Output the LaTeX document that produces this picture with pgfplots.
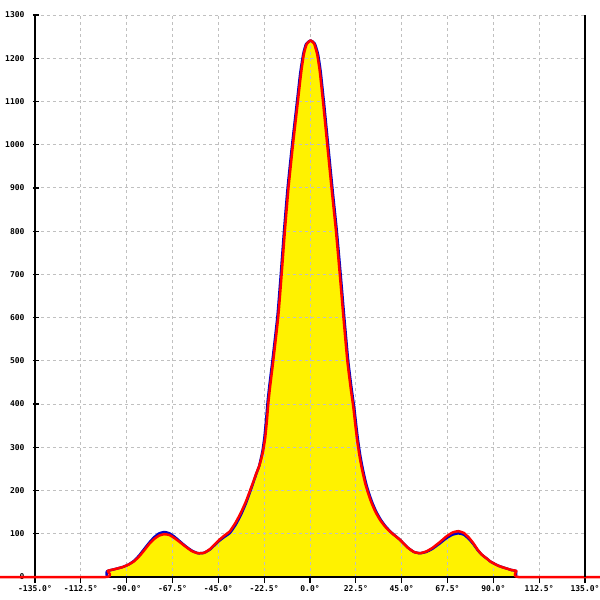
\documentclass[border=0pt]{standalone}
\usepackage{fontspec}
\setmonofont{DejaVu Sans Mono}
\usepackage{pgfplots}
\pgfplotsset{compat=1.18}
\usepackage{pgfplotstable}
\definecolor{gridgray}{RGB}{192,192,192}
\definecolor{curveblue}{RGB}{0,0,200}

\pgfplotstableread{
x y
-152.2 0
-100.3 0
-99.3 14
-96 18
-92 23
-89 29
-86.5 36
-84 47
-81.5 61
-79 76
-76.5 88
-74 96
-71.5 99
-69 97
-66.5 90
-64 81
-61 70
-58 60
-55 55
-52 56
-49 65
-45 84
-42 96
-39.3 106
-36.5 126
-34 148
-31.5 174
-29.5 199
-28 218
-26.5 238
-25 256
-24 272
-23 292
-22 322
-21.2 360
-20.4 405
-19.6 440
-18 502
-15.6 602
-13.9 702
-12.3 803
-10.6 899
-8.4 999
-6.2 1090
-4.4 1165
-3.0 1210
-1.6 1233
0.3 1241
2.0 1234
3.5 1210
4.8 1170
6.5 1095
8.5 999
10.6 899
12.7 803
14.6 702
16.4 602
18.3 502
20 436
21.3 392
22.3 350
23.2 315
24.2 283
25.2 257
26.2 235
27.2 215
28.4 196
30 174
32 152
34.4 132
37 116
40 102
44.2 86
48 68
51 58
54 55
57 59
60 67
63.8 81
67 94
70 103
72.8 106
75.5 102
78 91
80.2 78
82.5 62
84.5 51
86.7 43
88.5 36
90 32
92.5 26
94.9 22
97 19
99 16
101.3 14
102.3 0
142.4 0
}\redtab

\pgfplotstableread{
x y
-99.7 0
-99.7 13
-96 18
-92 23
-89 29
-86.5 37
-84 49
-81.5 64
-79 79
-76.5 92
-74 101
-71.5 104
-69 101
-66.5 93
-64 83
-61 71
-58 61
-55 55
-52 56
-49 64
-45 82
-42 93
-39.3 102
-36.5 121
-34 143
-31.5 170
-29.5 196
-28 216
-26.5 237
-25 256
-24.2 272
-23.3 292
-22.4 322
-21.6 360
-20.8 405
-20.0 440
-18.4 502
-16.0 602
-14.3 702
-12.7 803
-11.0 899
-8.8 999
-6.6 1090
-4.8 1165
-3.3 1210
-1.9 1233
0.3 1241
2.3 1234
3.9 1210
5.2 1170
6.9 1095
8.9 999
11.0 899
13.1 803
15.0 702
16.8 602
18.7 502
20.4 436
21.7 392
22.7 350
23.6 315
24.6 283
25.6 257
26.6 235
27.6 215
28.8 196
30.4 174
32.4 152
34.8 132
37.3 116
40.2 102
44.2 86
48 68
51 58
54 55
57 58
60 65
63.8 78
67 90
70 98
72.8 101
75.5 98
78 88
80.2 76
82.5 61
84.5 51
86.7 43
88.5 36
90 32
92.5 26
94.9 22
97 19
99 16
101.1 14
101.1 0
}\bluetab

\begin{document}
\begin{tikzpicture}
\begin{axis}[
  set layers,
  scale only axis, width=550pt, height=562pt,
  xmin=-135, xmax=135, ymin=0, ymax=1300,
  clip=false,
  axis x line*=bottom, axis y line*=left,
  axis line style={-, black, line width=1.2pt},
  xtick={-135,-112.5,...,135},
  ytick={0,100,...,1300},
  grid=major,
  major grid style={gridgray, line width=0.9pt, dash pattern=on 3pt off 3pt},
  tick align=outside, major tick length=6pt,
  tick style={black, line width=1.2pt},
  every major y tick/.append style={xshift=4pt},
  /pgf/number format/assume math mode=true,
  /pgf/number format/1000 sep={},
  xticklabel={\pgfmathprintnumber[fixed,fixed zerofill,precision=1]{\tick}°},
  tick label style={font=\ttfamily\bfseries\fontsize{8}{9}\selectfont, text=black},
  xticklabel style={yshift=1pt},
  yticklabel style={xshift=-1pt},
]
\addplot[on layer=axis background, fill=yellow, draw=none, smooth, tension=0.3] table[x=x,y=y]{\redtab} \closedcycle;
\addplot[curveblue, line width=2.5pt, line join=round, smooth, tension=0.3] table[x=x,y=y]{\bluetab};
\addplot[red, line width=2.5pt, line join=round, smooth, tension=0.3] table[x=x,y=y]{\redtab};
\draw[black, line width=1.2pt] (rel axis cs:1,0) -- (rel axis cs:1,1);
\end{axis}
\pgfresetboundingbox
\path ([shift={(-35pt,-23pt)}]current axis.south west) rectangle ([shift={(15pt,15pt)}]current axis.north east);
\end{tikzpicture}
\end{document}
